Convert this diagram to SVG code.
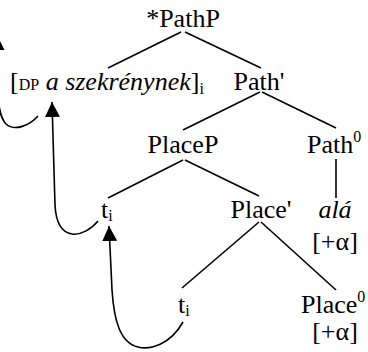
<svg xmlns="http://www.w3.org/2000/svg" width="368" height="352" viewBox="0 0 368 352">
<style>
text{font-family:"Liberation Serif","Times New Roman",serif;font-size:26px;fill:#000}
.it{font-style:italic}
.sm{font-size:16px}
.e line,.e path{stroke:#000;stroke-width:1.6;fill:none}
</style>
<defs>
<marker id="ah" markerUnits="userSpaceOnUse" markerWidth="16" markerHeight="16" refX="15" refY="7.5" orient="auto" viewBox="0 0 16 16">
<path d="M0,0 L15,7.5 L0,15 Z" fill="#000"/>
</marker>
</defs>
<rect width="368" height="352" fill="#fff"/>
<g id="connectors" class="e">
<line x1="181" y1="32" x2="108" y2="68"/>
<line x1="185" y1="32" x2="261" y2="68"/>
<line x1="260" y1="92" x2="183" y2="130"/>
<line x1="262" y1="92" x2="336" y2="128"/>
<line x1="336" y1="159" x2="336" y2="198"/>
<line x1="183" y1="160" x2="108" y2="198"/>
<line x1="185" y1="160" x2="259" y2="196"/>
<line x1="259" y1="222" x2="182" y2="288"/>
<line x1="261" y1="222" x2="336" y2="290"/>
<path d="M98,221 C84,238 57,244 55,205 L52,102" marker-end="url(#ah)"/>
<path d="M183,322 C170,345 150,350 138,347 C120,343 114,320 112,290 L109,226" marker-end="url(#ah)"/>
<path d="M38,116 C30,125 15,132 6,124 C0,118 -3,100 -3,80 L-3,35" marker-end="url(#ah)"/>
</g>
<g id="PathP"><text x="183" y="27" text-anchor="middle">*PathP</text></g>
<g id="DP"><text x="10" y="90">[<tspan class="sm">DP</tspan> <tspan class="it">a szekrénynek</tspan>]<tspan class="sm" dy="4">i</tspan></text></g>
<g id="PathBar"><text x="259" y="90" text-anchor="middle">Path'</text></g>
<g id="PlaceP"><text x="183" y="153" text-anchor="middle">PlaceP</text></g>
<g id="Path0"><text x="307" y="153">Path<tspan class="sm" dy="-11">0</tspan></text></g>
<g id="t1"><text x="101" y="218">t<tspan class="sm" dy="3">i</tspan></text></g>
<g id="PlaceBar"><text x="261" y="218" text-anchor="middle">Place'</text></g>
<g id="ala"><text x="335" y="218" text-anchor="middle" class="it">alá</text><text x="335" y="250" text-anchor="middle">[+α]</text></g>
<g id="t2"><text x="178" y="313">t<tspan class="sm" dy="3">i</tspan></text></g>
<g id="Place0"><text x="301" y="313">Place<tspan class="sm" dy="-11">0</tspan></text><text x="335" y="340" text-anchor="middle">[+α]</text></g>
</svg>
